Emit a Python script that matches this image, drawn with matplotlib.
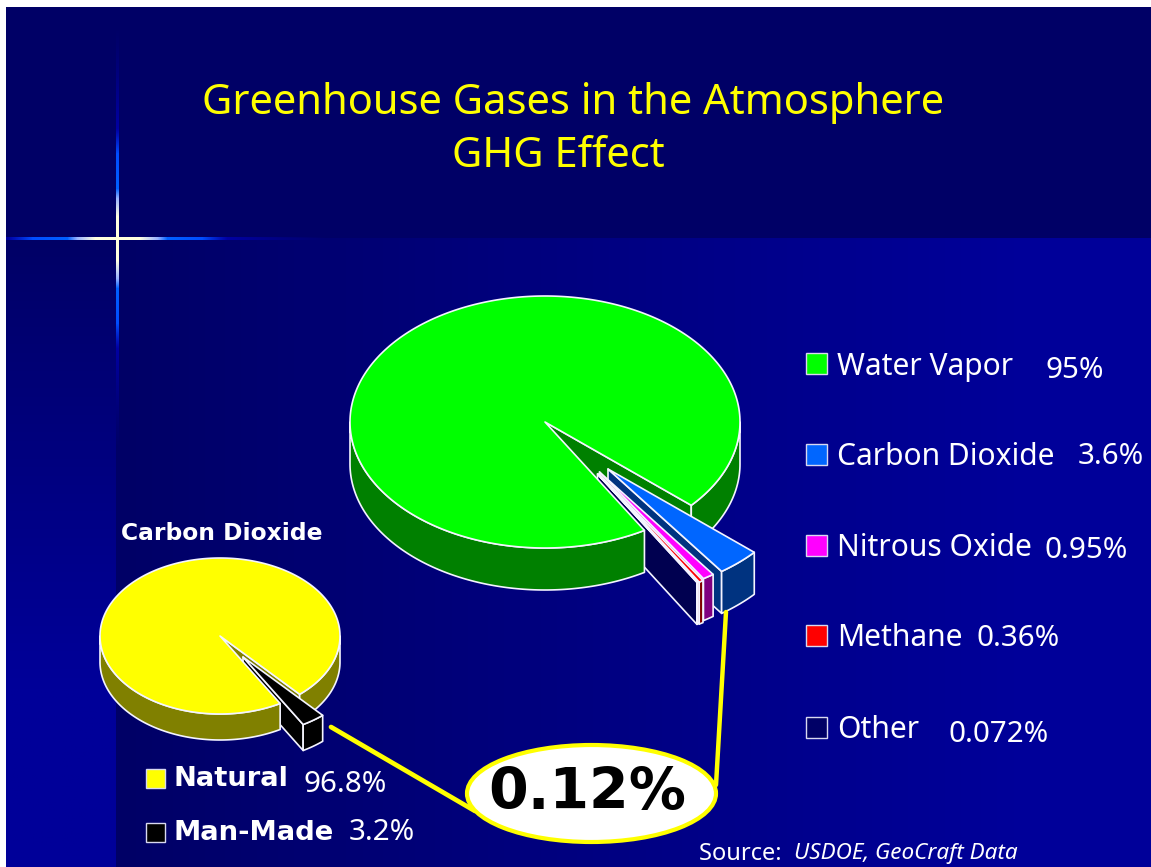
import numpy as np
import matplotlib
matplotlib.use("Agg")
import matplotlib.pyplot as plt
from matplotlib.patches import Polygon, Rectangle, Ellipse

# ---- data ----
gas_names = ["Water Vapor", "Carbon Dioxide", "Nitrous Oxide", "Methane", "Other"]
gas_values = [95, 3.6, 0.95, 0.36, 0.072]
gas_labels = ["95%", "3.6%", "0.95%", "0.36%", "0.072%"]
co2_names = ["Natural", "Man-Made"]
co2_values = [96.8, 3.2]
co2_labels = ["96.8%", "3.2%"]
callout = "0.12%"

# ---- style ----
FONT = ["Noto Sans", "DejaVu Sans"]
W, H = 1151, 867
gas_top = ["#00FF00", "#0066FF", "#FF00FF", "#FF0000", "#000066"]
gas_side = ["#008000", "#003380", "#800080", "#800000", "#000050"]
co2_top = ["#FFFF00", "#000000"]
co2_side = ["#808000", "#000000"]

fig = plt.figure(figsize=(W / 100, H / 100), dpi=100, facecolor="white")
ax = fig.add_axes([0, 0, 1, 1])
ax.set_xlim(0, W)
ax.set_ylim(H, 0)
ax.axis("off")

# ---- background ----
DARK = np.array([0, 0, 0x66]) / 255
BRIGHT = np.array([0, 0, 0x99]) / 255
BX, BY, SPLIT, STRIP = 6, 7, 238, 116
ax.imshow(DARK.reshape(1, 1, 3), extent=(BX, W, SPLIT, BY), aspect="auto", zorder=0)
t = np.linspace(0, 1, 256).reshape(1, -1, 1)
ax.imshow(DARK + (BRIGHT - DARK) * np.clip(t * 1.15, 0, 1), extent=(STRIP, W, H, SPLIT), aspect="auto", zorder=0)
t = np.linspace(0, 1, 256).reshape(-1, 1, 1)
ax.imshow(DARK + (BRIGHT - DARK) * np.clip(t * 1.4, 0, 1), extent=(BX, STRIP, H, SPLIT), aspect="auto", zorder=0)

# star glint: colour and opacity fall off with distance from the centre
SX, SY = 117.5, 238.5
def glint(d):
    rgba = np.zeros(d.shape + (4,))
    dist = [0, 22, 40, 50, 85, 110, 210]
    rgba[..., 0] = np.interp(d, dist, [1, 1, .6, 0, 0, 0, 0])
    rgba[..., 1] = np.interp(d, dist, [1, 1, .7, .38, .3, 0, 0])
    rgba[..., 2] = np.interp(d, dist, [.85, .88, 1, 1, 1, .7, .6])
    rgba[..., 3] = np.interp(d, dist, [1, 1, 1, 1, 1, .8, 0])
    return rgba
xs = np.arange(BX, 330) + .5
ax.imshow(glint(np.abs(xs - SX))[None, :, :], extent=(BX, 330, SY + 1.5, SY - 1.5), aspect="auto",
          interpolation="nearest", zorder=1)
ys = np.arange(30, 445) + .5
ax.imshow(glint(np.abs(ys - SY))[:, None, :], extent=(SX - 1.5, SX + 1.5, 445, 30), aspect="auto",
          interpolation="nearest", zorder=1)
ax.set_xlim(0, W)
ax.set_ylim(H, 0)

# ---- 3D pie helpers ----
EDGE = dict(edgecolor="#F4F4FF", linewidth=1.2, joinstyle="round")

def arc(cx, cy, rx, ry, a0, a1):
    a = np.radians(np.linspace(a0, a1, max(3, int(abs(a1 - a0)) + 2)))
    return np.c_[cx + rx * np.cos(a), cy - ry * np.sin(a)]

def poly(pts, color, z):
    ax.add_patch(Polygon(pts, closed=True, facecolor=color, zorder=z, **EDGE))

def wall(cx, cy, rx, ry, depth, a0, a1, color, z):
    top = arc(cx, cy, rx, ry, a0, a1)
    poly(np.vstack([top, top[::-1] + [0, depth]]), color, z)

def pie3d(values, tops, sides, centre, radii, depth, start, offsets):
    """First slice is the main body; the remaining ones are pulled out."""
    cx, cy = centre
    rx, ry = radii
    vals = np.asarray(values, float)
    spans = vals / vals.sum() * 360
    a = start
    slices = []
    for i in range(1, len(vals)):
        slices.append((i, a, a - spans[i]))
        a -= spans[i]
    body_a0 = a
    p0 = np.array([cx, cy])
    p1 = arc(cx, cy, rx, ry, start, start)[0]
    poly([p0, p1, p1 + [0, depth], p0 + [0, depth]], sides[0], 10)
    wall(cx, cy, rx, ry, depth, start, 0, sides[0], 10)
    for (i, a0, a1), (dx, dy) in zip(slices, offsets):
        o = p0 + [dx, dy]
        e = arc(o[0], o[1], rx, ry, a1, a1)[0]
        poly([o, e, e + [0, depth], o + [0, depth]], sides[i], 11)
    wall(cx, cy, rx, ry, depth, -180, body_a0, sides[0], 12)
    body = arc(cx, cy, rx, ry, start, body_a0 + 360)
    poly(np.vstack([p0, body]), tops[0], 13)
    for (i, a0, a1), (dx, dy) in zip(slices, offsets):
        o = p0 + [dx, dy]
        wall(o[0], o[1], rx, ry, depth, a1, a0, sides[i], 14)
        poly(np.vstack([o, arc(o[0], o[1], rx, ry, a0, a1)]), tops[i], 15)

pie3d(gas_values, gas_top, gas_side, (545, 422), (195, 126), 42, -41.4,
      [(63, 47), (54.5, 50), (54, 52), (52.5, 52)])
pie3d(co2_values, co2_top, co2_side, (220, 636), (120, 78), 26, -48.4, [(23, 21)])

# ---- callout ----
ax.plot([331, 475], [727, 811], color="#FFFF00", lw=3.4, solid_capstyle="round", zorder=20)
ax.plot([726, 716], [612, 785], color="#FFFF00", lw=3.2, solid_capstyle="round", zorder=20)
ax.add_patch(Ellipse((591.5, 793.5), 249, 97, facecolor="white", edgecolor="#FFFF00", lw=3, zorder=21))
ax.text(587, 794, callout, fontsize=41, fontweight="bold", color="black", ha="center", va="center",
        family=["DejaVu Sans"], zorder=22)

# ---- text ----
TITLE = dict(fontsize=30, color="#FFFF00", ha="center", va="center", family=FONT, zorder=5)
ax.text(573, 103, "Greenhouse Gases in the Atmosphere", **TITLE)
ax.text(558, 156, "GHG Effect", **TITLE)

leg_y = [363.5, 454, 545.5, 635.5, 727]
pct_pos = [(1046, 370), (1078, 456), (1045, 551), (977, 639), (949, 735)]
for name, lab, col, y, (px, py) in zip(gas_names, gas_labels, gas_top, leg_y, pct_pos):
    ax.add_patch(Rectangle((806.5, y - 10.5), 21, 21, facecolor=col, edgecolor="#D8D8F0", lw=1, zorder=5))
    ax.text(837, y + 3, name, fontsize=21.6, color="white", ha="left", va="center", family=FONT, zorder=5)
    ax.text(px, py, lab, fontsize=21.3, color="white", ha="left", va="center", family=FONT, zorder=5)

BOLD = dict(fontweight="bold", color="white", ha="left", va="center", family=["DejaVu Sans"], zorder=5)
ax.text(121, 534, "Carbon Dioxide", fontsize=16.8, **BOLD)
for name, lab, col, y, (px, py) in zip(co2_names, co2_labels, co2_top, [778.5, 832], [(304, 784), (349, 833)]):
    ax.add_patch(Rectangle((146, y - 9.5), 19, 19, facecolor=col, edgecolor="#D8D8F0", lw=1, zorder=5))
    ax.text(174, y + 1, name, fontsize=19.7, **BOLD)
    ax.text(px, py, lab, fontsize=21.3, color="white", ha="left", va="center", family=FONT, zorder=5)

ax.text(699, 854, "Source: ", fontsize=17, color="white", ha="left", va="center", family=FONT, zorder=5)
ax.text(794, 854, "USDOE, GeoCraft Data", fontsize=16.2, color="white", style="italic", ha="left", va="center", family=FONT, zorder=5)

fig.savefig("out.png", dpi=100, facecolor="white")
